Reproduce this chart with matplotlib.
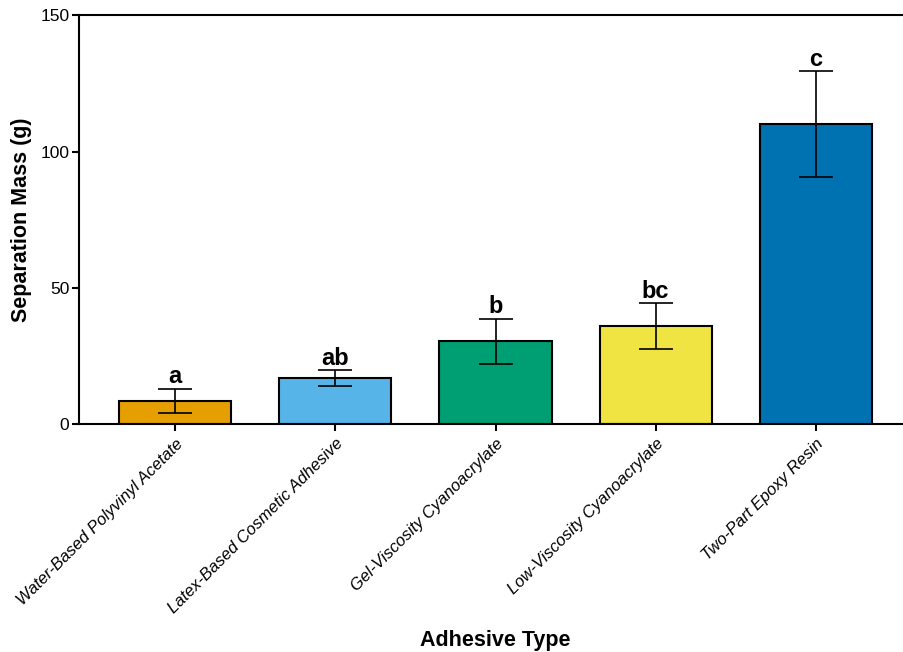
import numpy as np
import matplotlib.pyplot as plt

plt.rcParams['font.family'] = ['Liberation Sans', 'DejaVu Sans']

adhesives = ['Water-Based Polyvinyl Acetate', 'Latex-Based Cosmetic Adhesive',
             'Gel-Viscosity Cyanoacrylate', 'Low-Viscosity Cyanoacrylate',
             'Two-Part Epoxy Resin']
mass = [8.5, 17.0, 30.5, 36.0, 110.1]
err = [4.5, 2.8, 8.3, 8.4, 19.3]
groups = ['a', 'ab', 'b', 'bc', 'c']
colors = ['#E69F00', '#56B4E9', '#009E73', '#F0E442', '#0072B2']

fig = plt.figure(figsize=(9.04, 6.52), dpi=100)
ax = fig.add_axes([79 / 904, (652 - 424.3) / 652, (912 - 79) / 904, (424.3 - 15.3) / 652])

x = np.arange(len(adhesives))
ax.bar(x, mass, width=0.7, color=colors, edgecolor='black', linewidth=1.5, zorder=2)
ax.errorbar(x, mass, yerr=err, fmt='none', ecolor='black', elinewidth=1.2,
            capsize=12, capthick=1.2, zorder=3)

for xi, m, e, g in zip(x, mass, err, groups):
    ax.annotate(g, (xi, m + e), xytext=(0, 4), textcoords='offset points',
                ha='center', va='baseline', fontsize=17, fontweight='bold')

ax.set_xlim(-0.6, 4.6)
ax.set_ylim(0, 150)
ax.set_yticks([0, 50, 100, 150])
ax.set_xticks(x)
ax.set_xticklabels(adhesives, rotation=45, ha='right', va='top',
                   rotation_mode='anchor', fontstyle='italic', fontsize=12)
ax.tick_params(axis='y', labelsize=12.5, width=1.5, length=5, direction='out', pad=2)
ax.tick_params(axis='x', width=1.5, length=5, direction='out')

for side in ['left', 'bottom', 'top']:
    ax.spines[side].set_linewidth(1.5)
ax.spines['right'].set_visible(False)

ax.set_xlabel('Adhesive Type', fontsize=15.5, fontweight='bold', labelpad=10)
ax.set_ylabel('Separation Mass (g)', fontsize=15.5, fontweight='bold', labelpad=6)

fig.savefig('out.png', dpi=100)
